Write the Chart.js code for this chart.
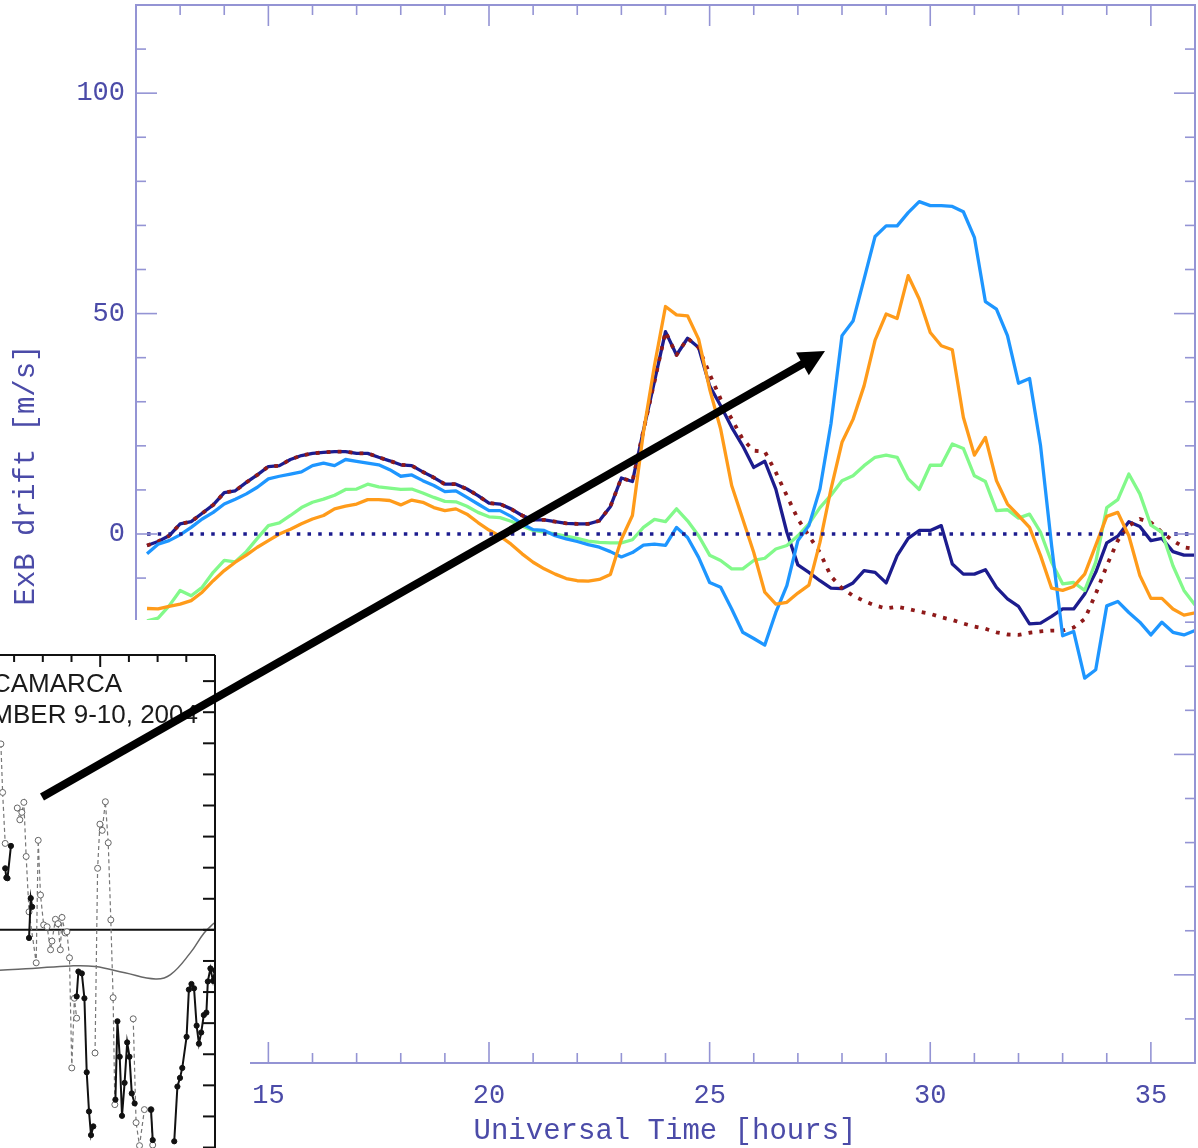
<!DOCTYPE html>
<html>
<head>
<meta charset="utf-8">
<script src="https://cdn.jsdelivr.net/npm/chart.js@4.4.1/dist/chart.umd.min.js"></script>
<style>
  html, body { margin: 0; padding: 0; background: #fff; overflow: hidden; }
  #page { position: relative; width: 1198px; height: 1148px; overflow: hidden; }
  #mainChart { position: absolute; left: 0; top: 0; }
  #insetBack { position: absolute; left: 0; top: 620px; width: 250px; height: 528px; background: #fff; }
  #insetChart { position: absolute; left: -100px; top: 620px; }
  #arrow { position: absolute; left: 0; top: 0; pointer-events: none; }
</style>
</head>
<body>
<div id="page">
  <canvas id="mainChart" width="1198" height="1148"></canvas>
  <div id="insetBack"></div>
  <canvas id="insetChart" width="320" height="700"></canvas>
  <svg id="arrow" width="1198" height="1148">
    <line x1="42" y1="797" x2="806" y2="362" stroke="#000" stroke-width="8"/>
    <polygon points="825,351 796,352.6 808.8,375.2" fill="#000"/>
  </svg>
</div>
<script>
// ========================================
// ExB drift, modelo vs Jicamarca (recuadro)
// ========================================

const hours = [
  12.25, 12.5, 12.75, 13, 13.25, 13.5, 13.75, 14, 14.25, 14.5, 14.75, 15,
  15.25, 15.5, 15.75, 16, 16.25, 16.5, 16.75, 17, 17.25, 17.5, 17.75, 18,
  18.25, 18.5, 18.75, 19, 19.25, 19.5, 19.75, 20, 20.25, 20.5, 20.75, 21,
  21.25, 21.5, 21.75, 22, 22.25, 22.5, 22.75, 23, 23.25, 23.5, 23.75, 24,
  24.25, 24.5, 24.75, 25, 25.25, 25.5, 25.75, 26, 26.25, 26.5, 26.75, 27,
  27.25, 27.5, 27.75, 28, 28.25, 28.5, 28.75, 29, 29.25, 29.5, 29.75, 30,
  30.25, 30.5, 30.75, 31, 31.25, 31.5, 31.75, 32, 32.25, 32.5, 32.75, 33,
  33.25, 33.5, 33.75, 34, 34.25, 34.5, 34.75, 35, 35.25, 35.5, 35.75, 36
];

const driftNavy = [
  -2.6, -1.7, -0.4, 2.3, 2.8, 4.7, 6.6, 9.4, 9.8, 11.7,
  13.4, 15.3, 15.5, 16.9, 17.8, 18.3, 18.5, 18.7, 18.7, 18.3,
  18.3, 17.4, 16.6, 15.7, 15.5, 14.1, 12.8, 11.3, 11.3, 10.2,
  8.7, 7.0, 6.8, 5.7, 4.2, 3.2, 3.2, 2.8, 2.4, 2.3,
  2.3, 3.0, 6.2, 12.7, 11.9, 23.5, 34.6, 45.9, 40.6, 44.4,
  42.3, 33.6, 29.1, 24.2, 20.0, 15.1, 16.5, 10.2, 0.4, -7.0,
  -8.7, -10.6, -12.3, -12.4, -11.1, -8.3, -8.7, -11.1, -4.9, -1.0,
  0.8, 0.8, 1.9, -6.8, -9.1, -9.1, -8.1, -12.1, -14.7, -16.4,
  -20.4, -20.2, -18.7, -17.0, -17.0, -13.6, -8.7, -2.0, -0.5, 2.8,
  1.7, -1.5, -1.0, -4.0, -4.8, -4.8
];

const driftQuiet = [
  -2.6, -1.7, -0.4, 2.3, 2.8, 4.7, 6.6, 9.4, 9.8, 11.7,
  13.4, 15.3, 15.5, 16.9, 17.8, 18.3, 18.5, 18.7, 18.7, 18.3,
  18.3, 17.4, 16.6, 15.7, 15.5, 14.1, 12.8, 11.3, 11.3, 10.2,
  8.7, 7.0, 6.8, 5.7, 4.2, 3.2, 3.2, 2.8, 2.4, 2.3,
  2.3, 3.0, 6.2, 12.7, 11.9, 23.5, 34.6, 45.9, 40.6, 44.4,
  42.3, 36.3, 30.6, 26.1, 21.5, 18.9, 18.7, 14.0, 8.7, 3.4,
  -0.4, -4.2, -9.6, -12.3, -14.0, -15.2, -16.2, -16.9, -16.5, -17.0,
  -17.6, -18.1, -18.9, -19.5, -20.3, -21.0, -21.5, -22.3, -22.8, -22.9,
  -22.4, -22.1, -21.9, -21.9, -21.2, -19.3, -13.6, -7.2, -1.5, 1.9,
  3.4, 2.6, 0.4, -1.5, -3.0, -3.4
];

const driftBlue = [
  -4.5, -2.3, -1.5, -0.2, 1.5, 3.4, 4.9, 6.8, 7.9, 9.1,
  10.6, 12.5, 13.1, 13.6, 14.1, 15.5, 16.1, 15.5, 16.9, 16.5,
  16.1, 15.7, 14.6, 13.1, 13.4, 12.1, 11.0, 9.6, 9.8, 8.3,
  6.8, 5.3, 5.3, 4.0, 2.3, 1.0, 0.8, -0.4, -1.1, -1.7,
  -2.4, -3.0, -4.0, -5.2, -4.2, -2.5, -2.3, -2.6, 1.5, -0.8,
  -5.3, -11.0, -12.1, -17.0, -22.3, -23.7, -25.2, -17.8, -11.7, -1.5,
  1.9, 10.2, 25.0, 45.0, 48.3, 57.8, 67.5, 69.9, 69.9, 72.9,
  75.4, 74.5, 74.5, 74.3, 73.1, 67.3, 52.7, 51.0, 45.0, 34.2,
  35.3, 20.0, -2.6, -23.1, -22.1, -32.7, -30.8, -16.3, -15.3, -17.8,
  -20.0, -22.9, -20.0, -22.3, -22.9, -21.9
];

const driftGreen = [
  -19.7, -19.1, -16.3, -12.8, -14.0, -12.1, -8.7, -6.0, -6.3, -4.0,
  -1.0, 1.9, 2.5, 4.2, 6.0, 7.2, 7.9, 8.8, 10.1, 10.2,
  11.3, 10.7, 10.4, 10.1, 10.2, 9.3, 8.3, 7.4, 7.3, 6.3,
  4.9, 3.9, 3.7, 2.9, 1.8, 0.8, 0.4, 0.0, -0.5, -1.0,
  -1.6, -1.9, -2.0, -2.0, -1.3, 1.5, 3.3, 2.8, 5.7, 3.0,
  -0.4, -4.8, -6.0, -7.9, -7.9, -6.0, -5.5, -3.4, -2.6, -0.4,
  2.3, 6.0, 8.8, 12.1, 13.2, 15.5, 17.4, 17.9, 17.4, 12.5,
  10.1, 15.6, 15.6, 20.4, 19.4, 13.2, 11.9, 5.3, 5.5, 3.6,
  4.5, 0.4, -6.4, -11.3, -11.0, -12.8, -6.4, 6.0, 7.8, 13.6,
  9.1, 2.0, 0.4, -7.2, -12.8, -16.1
];

const driftOrange = [
  -16.9, -17.0, -16.4, -15.9, -15.1, -13.2, -10.6, -8.3, -6.4, -4.8,
  -3.0, -1.5, 0.0, 1.1, 2.3, 3.4, 4.2, 5.7, 6.3, 6.8,
  7.8, 7.8, 7.6, 6.6, 7.7, 7.2, 6.0, 5.3, 5.7, 4.5,
  2.6, 0.9, -0.5, -2.3, -4.5, -6.4, -7.9, -9.1, -10.1, -10.6,
  -10.7, -10.3, -9.2, -1.2, 4.2, 23.1, 38.2, 51.6, 49.7, 49.5,
  44.2, 32.9, 23.8, 11.0, 3.4, -4.2, -13.2, -15.9, -15.5, -13.4,
  -11.6, -1.9, 10.2, 20.8, 26.0, 33.6, 44.0, 49.9, 48.9, 58.6,
  53.3, 45.7, 42.7, 41.8, 26.5, 17.9, 21.9, 12.1, 6.8, 4.2,
  1.5, -4.9, -12.3, -12.8, -11.9, -9.1, -2.6, 4.0, 4.9, -0.4,
  -9.4, -14.6, -14.6, -17.0, -18.4, -17.9
];

const zeroHours = [12.25, 36];
const zeroValues = [0, 0];

const xTickLabels = [15, 20, 25, 30, 35];
const yTickLabels = [0, 50, 100];

// Recuadro: Jicamarca, 9-10 de septiembre de 2004
const insetOpenHours = [
  16.54, 16.60, 16.69, 16.70,
  17.11, 17.20, 17.27, 17.34, 17.42, 17.52, 17.77, 17.84, 17.92, 18.03,
  18.15, 18.27, 18.32, 18.44, 18.53, 18.61, 18.67, 18.78, 18.84, 18.93,
  19.01, 19.10, 19.18, 19.50,
  19.82, 19.91, 19.99, 20.07, 20.18, 20.28, 20.37, 20.45, 20.51, 20.80,
  21.15, 21.25, 21.37, 21.54, 21.77, 21.83
];
const insetOpenDrift = [
  29.9, 22.1, 13.9, null,
  19.6, 17.7, 18.9, 20.5, 11.8, 2.9, -5.3, 14.4, 5.6, 0.8,
  0.5, -3.2, -1.8, 1.7, 1.0, -3.2, 2.0, -0.5, -0.3, -4.5,
  -22.2, -11.0, -14.2, null,
  -19.8, 9.9, 17.0, 16.0, 20.6, 14.0, 1.6, -10.9, -28.1, null,
  -14.3, -31.0, -34.7, -28.9, -28.9, -34.6
];

const insetFilledHours = [
  16.69, 16.73, 16.77, 16.89, 17.2,
  17.52, 17.58, 17.63, 18.5,
  19.18, 19.24, 19.36, 19.45, 19.53, 19.61, 19.68, 19.76, 20.2,
  20.53, 20.60, 20.68, 20.76, 20.85, 20.94, 21.02, 21.10, 21.20, 21.5,
  21.77, 21.83, 22.2,
  22.58, 22.69, 22.78, 22.86, 23.01, 23.09, 23.18, 23.27, 23.36, 23.44,
  23.52, 23.61, 23.70, 23.75, 23.84, 23.93, 24.0
];
const insetFilledDrift = [
  9.9, 8.4, 8.3, 13.5, null,
  -1.3, 5.1, 3.7, null,
  -10.7, -6.7, -7.0, -11.0, -22.9, -29.2, -33.0, -31.6, null,
  -27.3, -14.7, -20.4, -29.9, -24.6, -18.1, -20.4, -26.3, -27.9, null,
  -28.9, -33.8, null,
  -34.0, -25.2, -23.8, -22.2, -17.2, -9.6, -8.7, -9.4, -15.4, -18.3,
  -16.5, -13.7, -13.3, -8.3, -6.2, -8.2, -6.5
];

const insetModelHours = [15.5, 16.48, 17.62, 18.97, 19.83, 20.86, 21.93, 22.45, 23.14, 23.62, 23.97];
const insetModelDrift = [-6.9, -6.5, -6.2, -5.8, -5.9, -6.9, -7.9, -7.2, -3.7, -0.5, 1.1];

const insetZeroHours = [14, 24];
const insetZeroDrift = [0, 0];

const AXIS_COLOR = '#9494d4';
const TEXT_COLOR = '#4b4ba8';
const MONO = '"Liberation Mono", "Courier New", monospace';

function toPoints(xs, ys) {
  return xs.map((x, i) => ({ x: x, y: ys[i] }));
}

function strokeLine(ctx, x1, y1, x2, y2) {
  ctx.beginPath();
  ctx.moveTo(x1, y1);
  ctx.lineTo(x2, y2);
  ctx.stroke();
}

// Marco con ticks hacia adentro, rótulos y títulos de ejes
const mainFrame = {
  id: 'mainFrame',
  afterDraw(chart) {
    const { ctx, chartArea: a, scales: { x, y } } = chart;
    ctx.save();
    ctx.strokeStyle = AXIS_COLOR;
    ctx.lineWidth = 2;
    ctx.strokeRect(a.left, a.top, a.right - a.left, a.bottom - a.top);

    ctx.lineWidth = 1.6;
    for (let h = 13; h < 36; h++) {
      const px = x.getPixelForValue(h);
      const len = h % 5 === 0 ? 21 : 10;
      strokeLine(ctx, px, a.top, px, a.top + len);
      strokeLine(ctx, px, a.bottom, px, a.bottom - len);
    }
    for (let v = -110; v <= 110; v += 10) {
      const py = y.getPixelForValue(v);
      const len = v % 50 === 0 ? 21 : 10;
      strokeLine(ctx, a.left, py, a.left + len, py);
      strokeLine(ctx, a.right, py, a.right - len, py);
    }

    ctx.fillStyle = TEXT_COLOR;
    ctx.font = '27px ' + MONO;
    ctx.textBaseline = 'middle';
    ctx.textAlign = 'center';
    xTickLabels.forEach(h => ctx.fillText(String(h), x.getPixelForValue(h), a.bottom + 33));
    ctx.textAlign = 'right';
    yTickLabels.forEach(v => ctx.fillText(String(v), a.left - 11, y.getPixelForValue(v)));

    ctx.font = '29px ' + MONO;
    ctx.textAlign = 'center';
    ctx.fillText('Universal Time [hours]', 665, 1131);

    ctx.translate(26, 475);
    ctx.rotate(-Math.PI / 2);
    ctx.fillText('ExB drift [m/s]', 0, 0);
    ctx.restore();
  }
};

new Chart(document.getElementById('mainChart'), {
  type: 'line',
  data: {
    datasets: [
      {
        label: 'zero',
        data: toPoints(zeroHours, zeroValues),
        borderColor: '#1c1c8e',
        borderWidth: 3.5,
        borderDash: [3.5, 7.2]
      },
      {
        label: 'orange',
        data: toPoints(hours, driftOrange),
        borderColor: '#ff9b1a'
      },
      {
        label: 'blue',
        data: toPoints(hours, driftBlue),
        borderColor: '#1e96ff'
      },
      {
        label: 'green',
        data: toPoints(hours, driftGreen),
        borderColor: '#82f98a'
      },
      {
        label: 'quiet',
        data: toPoints(hours, driftQuiet),
        borderColor: '#8f1a1a',
        borderWidth: 3.8,
        borderDash: [3.8, 7.2]
      },
      {
        label: 'navy',
        data: toPoints(hours, driftNavy),
        borderColor: '#1c1c8e'
      }
    ]
  },
  options: {
    responsive: false,
    animation: false,
    layout: { padding: { top: 5, right: 3, left: 0, bottom: 0 } },
    plugins: {
      legend: { display: false },
      tooltip: { enabled: false }
    },
    elements: {
      point: { radius: 0 },
      line: { tension: 0, borderWidth: 3.3, borderJoinStyle: 'round', fill: false }
    },
    scales: {
      x: {
        type: 'linear',
        min: 12,
        max: 36,
        afterFit: (scale) => { scale.height = 85; },
        grid: { display: false, drawTicks: false },
        border: { display: false },
        ticks: { display: false }
      },
      y: {
        type: 'linear',
        min: -120,
        max: 120,
        afterFit: (scale) => { scale.width = 136; },
        grid: { display: false, drawTicks: false },
        border: { display: false },
        ticks: { display: false }
      }
    }
  },
  plugins: [mainFrame]
});

// Marco del recuadro y rótulos
const insetFrame = {
  id: 'insetFrame',
  afterDraw(chart) {
    const { ctx, chartArea: a, scales: { x, y } } = chart;
    ctx.save();
    ctx.strokeStyle = '#111';
    ctx.lineWidth = 2;
    strokeLine(ctx, a.left - 10, a.top, a.right, a.top);
    strokeLine(ctx, a.right, a.top, a.right, a.bottom);
    for (let h = 15; h < 24; h++) {
      const px = x.getPixelForValue(h);
      strokeLine(ctx, px, a.top, px, a.top + (h % 5 === 0 ? 12 : 7));
    }
    for (let v = -55; v <= 40; v += 5) {
      const py = y.getPixelForValue(v);
      strokeLine(ctx, a.right, py, a.right - 12, py);
    }
    ctx.fillStyle = '#1a1a1a';
    ctx.font = '26px "Liberation Sans", Arial, sans-serif';
    ctx.textAlign = 'right';
    ctx.textBaseline = 'alphabetic';
    ctx.fillText('JICAMARCA', 222, 72);
    ctx.fillText('SEPTEMBER 9-10, 2004', 298, 103);
    ctx.restore();
  }
};

new Chart(document.getElementById('insetChart'), {
  type: 'line',
  data: {
    datasets: [
      {
        label: 'filled',
        data: toPoints(insetFilledHours, insetFilledDrift),
        borderColor: '#111',
        borderWidth: 2,
        pointRadius: 2.6,
        pointBackgroundColor: '#111',
        pointBorderColor: '#111',
        pointBorderWidth: 1
      },
      {
        label: 'open',
        data: toPoints(insetOpenHours, insetOpenDrift),
        borderColor: '#777',
        borderWidth: 1.2,
        borderDash: [4, 3],
        pointRadius: 3,
        pointBackgroundColor: '#fff',
        pointBorderColor: '#666',
        pointBorderWidth: 1
      },
      {
        label: 'model',
        data: toPoints(insetModelHours, insetModelDrift),
        borderColor: '#666',
        borderWidth: 1.5,
        pointRadius: 0,
        tension: 0.4
      },
      {
        label: 'zero',
        data: toPoints(insetZeroHours, insetZeroDrift),
        borderColor: '#111',
        borderWidth: 2,
        pointRadius: 0
      }
    ]
  },
  options: {
    responsive: false,
    animation: false,
    spanGaps: false,
    layout: { padding: { top: 35, right: 2, left: 28, bottom: 17 } },
    plugins: {
      legend: { display: false },
      tooltip: { enabled: false }
    },
    elements: { line: { tension: 0, fill: false } },
    scales: {
      x: { type: 'linear', min: 14, max: 24, display: false },
      y: { type: 'linear', min: -60, max: 44.2, display: false }
    }
  },
  plugins: [insetFrame]
});
</script>
</body>
</html>
